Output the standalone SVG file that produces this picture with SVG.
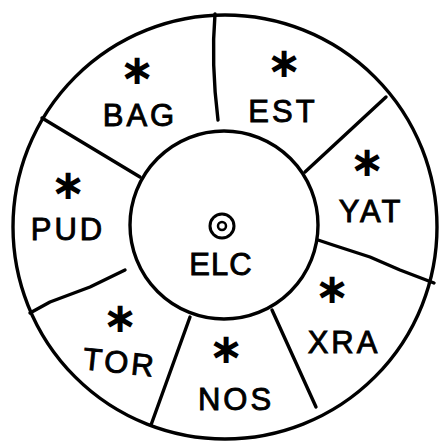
<svg xmlns="http://www.w3.org/2000/svg" width="441" height="445" viewBox="0 0 441 445">
<style>
.ring{fill:none;stroke:#000;stroke-width:3.4}
.div{fill:none;stroke:#000;stroke-width:3.4;stroke-linecap:round;stroke-linejoin:round}
.lbl{font-family:"Liberation Sans",Arial,sans-serif;font-size:31px;fill:#000;stroke:#000;stroke-width:0.9;text-anchor:middle;letter-spacing:3px}
.star{font-family:"DejaVu Sans","Liberation Sans",sans-serif;font-size:42px;font-weight:bold;fill:#000;text-anchor:middle}
</style>
<rect width="441" height="445" fill="#fff"/>
<g id="rings">
<circle class="ring" cx="225" cy="227" r="212"/>
<circle class="ring" cx="224" cy="225" r="94"/>
</g>
<g id="connectors">
<path class="div" d="M215,14 C212,50 213,80 218,120"/>
<path class="div" d="M386,97 L305,172"/>
<path class="div" d="M318,240 L333,245 L370,257 L400,270 L434,283"/>
<path class="div" d="M272,310 L316,407"/>
<path class="div" d="M190,317 L151,425"/>
<path class="div" d="M125,270 L90,287 L50,302 L30,313"/>
<path class="div" d="M140,177 L42,118"/>
</g>
<g id="BAG"><text class="star" x="137" y="84">∗</text><text class="lbl" x="140" y="126">BAG</text></g>
<g id="EST"><text class="star" x="284" y="77">∗</text><text class="lbl" x="283" y="122">EST</text></g>
<g id="YAT"><text class="star" x="367" y="176">∗</text><text class="lbl" x="371" y="222">YAT</text></g>
<g id="XRA"><text class="star" x="332" y="303">∗</text><text class="lbl" x="344" y="353">XRA</text></g>
<g id="NOS"><text class="star" x="226" y="363">∗</text><text class="lbl" x="236" y="410">NOS</text></g>
<g id="TOR"><text class="star" x="120" y="332">∗</text><text class="lbl" x="120" y="373" transform="rotate(6 120 362)">TOR</text></g>
<g id="PUD"><text class="star" x="68" y="199">∗</text><text class="lbl" x="68" y="240">PUD</text></g>
<g id="ELC">
<circle cx="222" cy="226" r="12" fill="none" stroke="#000" stroke-width="3"/>
<circle cx="222" cy="226" r="4" fill="none" stroke="#000" stroke-width="2.5"/>
<text class="lbl" x="221" y="275" style="letter-spacing:1px">ELC</text>
</g>
</svg>
